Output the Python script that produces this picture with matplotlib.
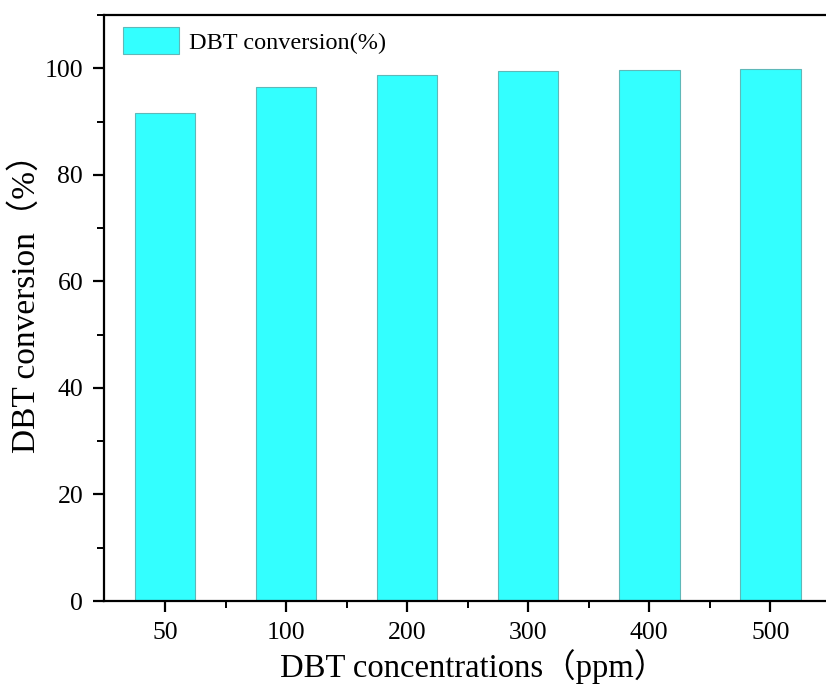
import matplotlib
matplotlib.use("Agg")
import matplotlib.pyplot as plt
from matplotlib.ticker import MultipleLocator, FixedLocator

categories = ["50", "100", "200", "300", "400", "500"]
conversion = [91.6, 96.4, 98.8, 99.4, 99.6, 99.9]

plt.rcParams['font.family'] = ['Liberation Serif', 'Noto Sans CJK SC', 'DejaVu Sans']

fig = plt.figure(figsize=(8.26, 6.92), dpi=100)
ax = fig.add_axes([104/826, (692-601)/692, (826-104)/826, (601-15)/692])

x = list(range(len(categories)))
ax.bar(x, conversion, width=0.5, color='#33ffff', edgecolor='#5fb8b8', linewidth=0.8,
       label='DBT conversion(%)')

ax.set_xlim(-0.504, 5.46)
ax.set_ylim(0, 110)
ax.set_xticks(x)
ax.set_xticklabels(categories)
ax.xaxis.set_minor_locator(FixedLocator([i + 0.5 for i in x]))
ax.yaxis.set_major_locator(MultipleLocator(20))
ax.yaxis.set_minor_locator(MultipleLocator(10))

for s in ['left', 'bottom', 'top']:
    ax.spines[s].set_linewidth(1.6)
ax.spines['right'].set_visible(False)

ax.tick_params(which='major', direction='out', length=8, width=1.6, labelsize=18.5, pad=7)
ax.tick_params(which='minor', direction='out', length=5, width=1.4)

ax.set_xlabel('DBT concentrations（ppm）', fontsize=23.5)
ax.set_ylabel('DBT conversion（%）', fontsize=24)
ax.xaxis.set_label_coords(0.512, -0.082)
ax.yaxis.set_label_coords(-0.086, 0.522)

ax.legend(loc='upper left', frameon=False, fontsize=17.5, handlelength=2.3, handleheight=1.35,
          borderaxespad=0.1, handletextpad=0.4, bbox_to_anchor=(0.01, 1.0))

fig.savefig('out.png', dpi=100)
